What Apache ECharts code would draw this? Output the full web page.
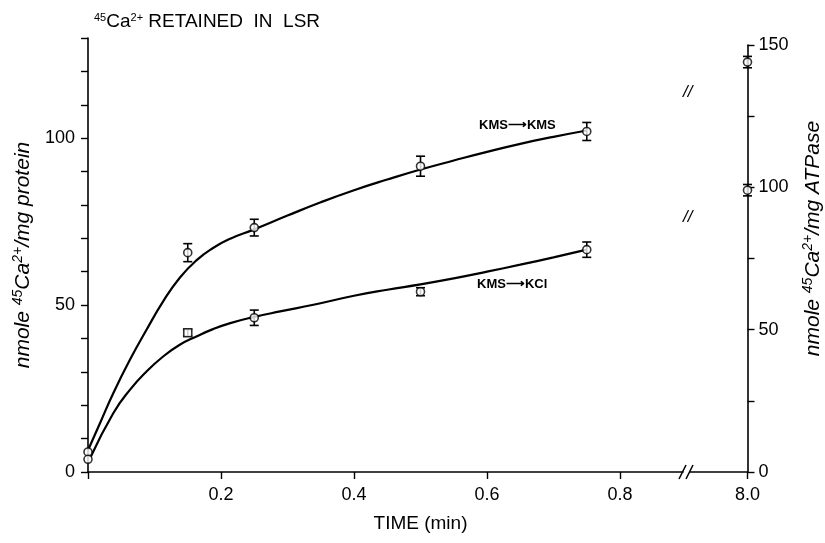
<!DOCTYPE html>
<html>
<head>
<meta charset="utf-8">
<script src="https://cdn.jsdelivr.net/npm/echarts@6/dist/echarts.min.js"></script>
<style>html,body{margin:0;padding:0;background:#fff}#c{width:825px;height:543px}</style>
</head>
<body>
<div id="c"></div>
<script>
// ---- data ----
const times = [0, 0.15, 0.25, 0.5, 0.75];
const kmsKms = [6, 65.7, 73.2, 91.6, 102];
const kmsKmsErr = [0, 2.7, 2.5, 3, 2.7];
const kmsKcl = [3.8, 41.7, 46.2, 54, 66.6];
const kmsKclErr = [0, 1, 2.3, 1.2, 2.3];
const kmsKclSquare = [false, true, false, false, false];

// fitted curves
const curveKmsT = [0, 0.018, 0.038, 0.063, 0.088, 0.113, 0.138, 0.163, 0.188, 0.214, 0.249, 0.3, 0.35, 0.4, 0.45, 0.5, 0.55, 0.6, 0.65, 0.7, 0.75];
const curveKmsV = [6.5, 14.6, 23.6, 33.6, 42.6, 51.1, 58.2, 63.4, 67.1, 69.9, 72.6, 76.8, 80.8, 84.4, 87.6, 90.6, 93.3, 95.9, 98.3, 100.4, 102.3];
const curveKclT = [0.004, 0.038, 0.063, 0.088, 0.113, 0.138, 0.163, 0.188, 0.214, 0.249, 0.289, 0.339, 0.4, 0.45, 0.5, 0.55, 0.6, 0.65, 0.7, 0.75];
const curveKclV = [4.5, 17.6, 24.6, 30.1, 34.6, 38.1, 40.6, 42.8, 44.6, 46.4, 48.1, 50.1, 52.8, 54.6, 56.2, 58, 60, 62.1, 64.3, 66.6];

// 8.0 min values on the ATPase scale
const lateTime = [8.0, 8.0];
const lateValues = [144, 99];
const lateErr = [2, 2];

const xTickLabels = [0.2, 0.4, 0.6, 0.8];
const leftTickLabels = [0, 50, 100];
const rightTickLabels = [0, 50, 100, 150];

const FONT = '"Liberation Sans", Arial, sans-serif';

function pts(t, v) { return t.map((x, i) => [x, v[i]]); }
function errData(t, v, e) { return t.map((x, i) => [x, v[i], e[i]]).filter(d => d[2] > 0); }

function errRender(params, api) {
  const x = api.value(0), y = api.value(1), e = api.value(2);
  const a = api.coord([x, y + e]);
  const b = api.coord([x, y - e]);
  const w = 4.5;
  const st = { stroke: '#000', lineWidth: 1.6 };
  return { type: 'group', children: [
    { type: 'line', shape: { x1: a[0], y1: a[1], x2: b[0], y2: b[1] }, style: st },
    { type: 'line', shape: { x1: a[0] - w, y1: a[1], x2: a[0] + w, y2: a[1] }, style: st },
    { type: 'line', shape: { x1: b[0] - w, y1: b[1], x2: b[0] + w, y2: b[1] }, style: st }
  ]};
}

const sup = { fontSize: 14, fontFamily: FONT, fontStyle: 'italic', padding: [0, 0, 10, 0], verticalAlign: 'bottom' };
const axisLineStyle = { color: '#000', width: 1.6 };
const tickStyle = { color: '#000', width: 1.4 };

const chart = echarts.init(document.getElementById('c'), null, { renderer: 'canvas' });
chart.setOption({
  backgroundColor: '#fff',
  animation: false,
  title: {
    text: '{s|45}Ca{s|2+} RETAINED  IN  LSR',
    left: 89, top: 7,
    textStyle: { fontFamily: FONT, fontSize: 19, fontWeight: 'normal', color: '#000',
      rich: { s: { fontSize: 11, fontFamily: FONT, padding: [0, 0, 9, 0] } } }
  },
  grid: [
    { left: 88, top: 38, width: 595, height: 434 },
    { left: 690, top: 45, width: 65, height: 427 }
  ],
  xAxis: [
    { type: 'value', gridIndex: 0, min: 0, max: 0.8947, splitLine: { show: false },
      axisLine: { lineStyle: axisLineStyle, onZero: false },
      axisTick: { show: true, length: 7, lineStyle: tickStyle, customValues: [0].concat(xTickLabels) },
      axisLabel: { customValues: xTickLabels, color: '#000', fontFamily: FONT, fontSize: 18, margin: 14,
        formatter: v => v.toFixed(1) },
      name: 'TIME (min)', nameLocation: 'middle', nameGap: 42,
      nameTextStyle: { fontFamily: FONT, fontSize: 19, color: '#000', padding: [0, 0, 0, 70] }
    },
    { type: 'value', gridIndex: 1, min: 7.9, max: 8.0, splitLine: { show: false },
      axisLine: { lineStyle: axisLineStyle, onZero: false },
      axisTick: { show: true, length: 7, lineStyle: tickStyle, customValues: lateTime.slice(0, 1) },
      axisLabel: { customValues: lateTime.slice(0, 1), color: '#000', fontFamily: FONT, fontSize: 18, margin: 14,
        formatter: v => v.toFixed(1) }
    }
  ],
  yAxis: [
    { type: 'value', gridIndex: 0, min: 0, max: 130, interval: 10, splitLine: { show: false },
      axisLine: { show: true, lineStyle: axisLineStyle, onZero: false },
      axisTick: { show: true, length: 7, lineStyle: tickStyle },
      axisLabel: { customValues: leftTickLabels, color: '#000', fontFamily: FONT, fontSize: 18, margin: 13 },
      name: 'nmole {s|45}Ca{s|2+}/mg protein', nameLocation: 'middle', nameGap: 33, nameRotate: 90,
      nameTextStyle: { fontFamily: FONT, fontSize: 21, fontStyle: 'italic', color: '#000', rich: { s: sup } }
    },
    { type: 'value', gridIndex: 1, position: 'right', min: 0, max: 150, interval: 25, splitLine: { show: false },
      axisLine: { show: true, lineStyle: axisLineStyle, onZero: false },
      axisTick: { show: true, length: 7, lineStyle: tickStyle },
      axisLabel: { customValues: rightTickLabels, color: '#000', fontFamily: FONT, fontSize: 18, margin: 11 },
      name: 'nmole {s|45}Ca{s|2+}/mg ATPase', nameLocation: 'middle', nameGap: 54, nameRotate: 90,
      nameTextStyle: { fontFamily: FONT, fontSize: 21, fontStyle: 'italic', color: '#000', padding: [0, 0, 0, 40],
        rich: { s: sup } }
    }
  ],
  series: [
    { name: 'KMS→KMS curve', type: 'line', xAxisIndex: 0, yAxisIndex: 0, smooth: 0.5, showSymbol: false,
      data: pts(curveKmsT, curveKmsV), lineStyle: { color: '#000', width: 2.2 }, z: 2 },
    { name: 'KMS→KCl curve', type: 'line', xAxisIndex: 0, yAxisIndex: 0, smooth: 0.5, showSymbol: false,
      data: pts(curveKclT, curveKclV), lineStyle: { color: '#000', width: 2.2 }, z: 2 },
    { type: 'custom', xAxisIndex: 0, yAxisIndex: 0, renderItem: errRender, data: errData(times, kmsKms, kmsKmsErr), z: 3 },
    { type: 'custom', xAxisIndex: 0, yAxisIndex: 0, renderItem: errRender, data: errData(times, kmsKcl, kmsKclErr), z: 3 },
    { type: 'custom', xAxisIndex: 1, yAxisIndex: 1, renderItem: errRender, data: errData(lateTime, lateValues, lateErr), z: 3 },
    { name: 'KMS→KMS', type: 'scatter', xAxisIndex: 0, yAxisIndex: 0, symbol: 'circle', symbolSize: 8,
      data: pts(times, kmsKms), itemStyle: { color: '#fff', borderColor: '#000', borderWidth: 1.6 }, z: 4 },
    { name: 'KMS→KCl', type: 'scatter', xAxisIndex: 0, yAxisIndex: 0, symbolSize: 8,
      data: times.map((t, i) => ({ value: [t, kmsKcl[i]], symbol: kmsKclSquare[i] ? 'rect' : 'circle' })),
      itemStyle: { color: '#fff', borderColor: '#000', borderWidth: 1.6 }, z: 4 },
    { name: '8.0 min', type: 'scatter', xAxisIndex: 1, yAxisIndex: 1, symbol: 'circle', symbolSize: 8,
      data: pts(lateTime, lateValues), itemStyle: { color: '#fff', borderColor: '#000', borderWidth: 1.6 }, z: 4 }
  ],
  graphic: [
    { type: 'text', left: 479, top: 119, style: { text: 'KMS⟶KMS', fontFamily: FONT, fontSize: 13, fontWeight: 'bold', fill: '#000' } },
    { type: 'text', left: 477, top: 278, style: { text: 'KMS⟶KCl', fontFamily: FONT, fontSize: 13, fontWeight: 'bold', fill: '#000' } },
    { type: 'text', left: 683, top: 84, style: { text: '//', fontFamily: FONT, fontSize: 17, fontStyle: 'italic', fill: '#000' } },
    { type: 'text', left: 683, top: 209, style: { text: '//', fontFamily: FONT, fontSize: 17, fontStyle: 'italic', fill: '#000' } },
    { type: 'line', shape: { x1: 679, y1: 479, x2: 686, y2: 465 }, style: { stroke: '#000', lineWidth: 1.5 } },
    { type: 'line', shape: { x1: 686, y1: 479, x2: 693, y2: 465 }, style: { stroke: '#000', lineWidth: 1.5 } }
  ]
});
</script>
</body>
</html>
